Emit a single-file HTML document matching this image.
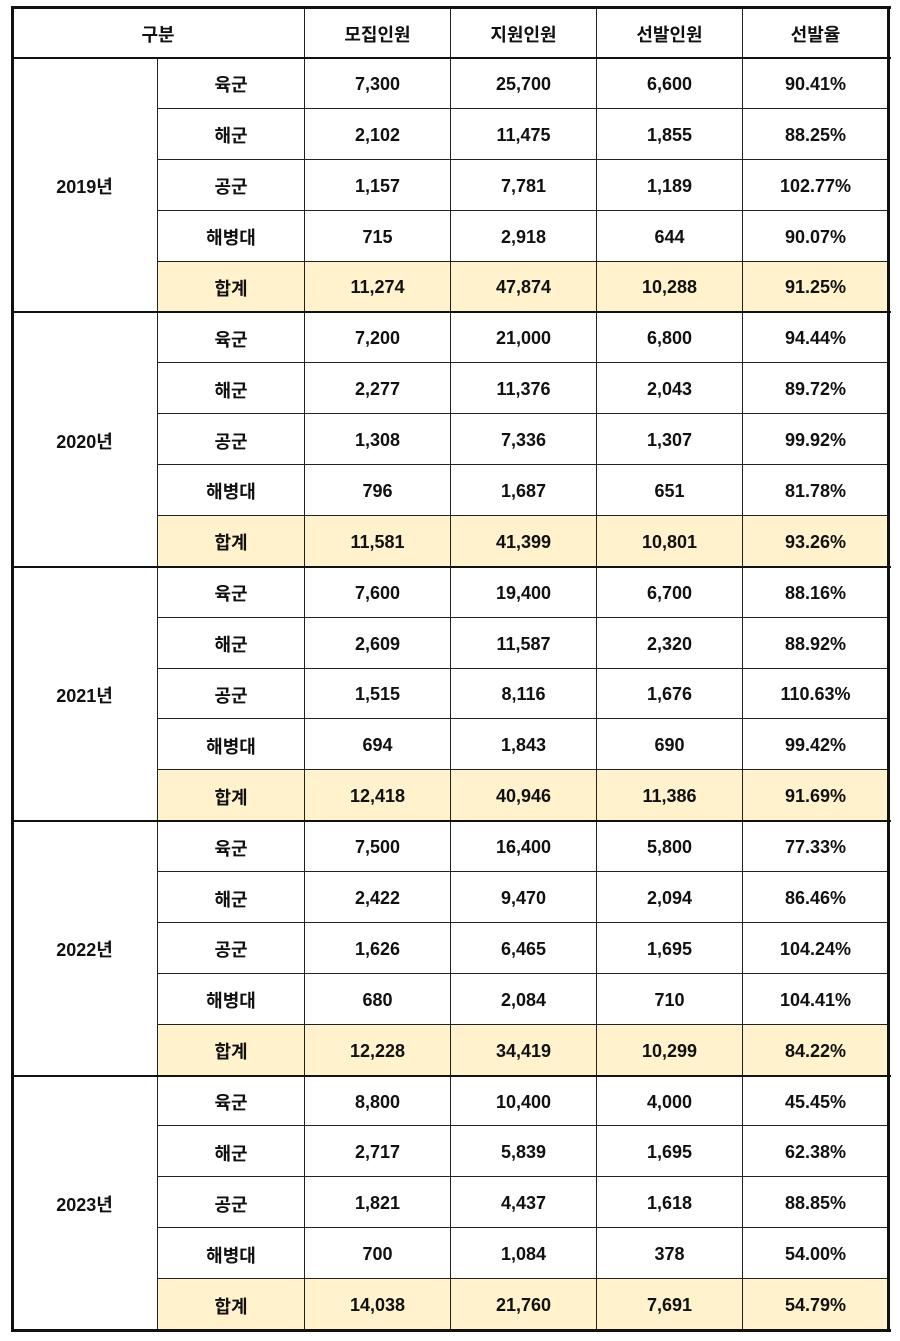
<!DOCTYPE html>
<html><head><meta charset="utf-8"><style>
html,body{margin:0;padding:0;background:#fff;width:900px;height:1341px;overflow:hidden}
#t{position:absolute;left:0;top:0;width:900px;height:1341px}
.c{position:absolute;box-sizing:border-box;display:flex;align-items:center;justify-content:center;padding-top:3px;font-family:"Liberation Sans","Noto Sans CJK KR",sans-serif;font-weight:bold;font-size:18px;color:#111;border-right:1.5px solid #222;border-bottom:1.5px solid #222}
.y{background:#fff2cc}
.hl{position:absolute;background:#111}
</style></head><body>
<div id="t"></div>
<script>
const years=["2019년","2020년","2021년","2022년","2023년"];
const branches=["육군","해군","공군","해병대","합계"];
const headers=["모집인원","지원인원","선발인원","선발율"];
const recruit=[["7,300","2,102","1,157","715","11,274"],["7,200","2,277","1,308","796","11,581"],["7,600","2,609","1,515","694","12,418"],["7,500","2,422","1,626","680","12,228"],["8,800","2,717","1,821","700","14,038"]];
const applied=[["25,700","11,475","7,781","2,918","47,874"],["21,000","11,376","7,336","1,687","41,399"],["19,400","11,587","8,116","1,843","40,946"],["16,400","9,470","6,465","2,084","34,419"],["10,400","5,839","4,437","1,084","21,760"]];
const selected=[["6,600","1,855","1,189","644","10,288"],["6,800","2,043","1,307","651","10,801"],["6,700","2,320","1,676","690","11,386"],["5,800","2,094","1,695","710","10,299"],["4,000","1,695","1,618","378","7,691"]];
const rates=[["90.41%","88.25%","102.77%","90.07%","91.25%"],["94.44%","89.72%","99.92%","81.78%","93.26%"],["88.16%","88.92%","110.63%","99.42%","91.69%"],["77.33%","86.46%","104.24%","104.41%","84.22%"],["45.45%","62.38%","88.85%","54.00%","54.79%"]];
const T=document.getElementById('t');
const X=[12,158,305,451,597,743,889];
const top0=7,hdrB=58,rh=(1330-58)/25;
function cell(x1,y1,x2,y2,txt,name,cls){
 const d=document.createElement('div');
 d.className='c'+(cls?' '+cls:'');
 d.style.left=x1+'px';d.style.top=y1+'px';d.style.width=(x2-x1)+'px';d.style.height=(y2-y1)+'px';
 d.textContent=txt;
 
 
 T.appendChild(d);
}
cell(X[0],top0,X[2],hdrB,"구분","header-category");
headers.forEach((h,i)=>cell(X[i+2],top0,X[i+3],hdrB,h,"header-col-"+(i+1)));
years.forEach((yr,g)=>{
 const gy=hdrB+g*5*rh;
 cell(X[0],gy,X[1],gy+5*rh,yr,"year-label");
 branches.forEach((b,r)=>{
  const y1=gy+r*rh,y2=y1+rh,cls=r===4?'y':'';
  cell(X[1],y1,X[2],y2,b,"branch-label",cls);
  cell(X[2],y1,X[3],y2,recruit[g][r],"recruit-cell",cls);
  cell(X[3],y1,X[4],y2,applied[g][r],"applied-cell",cls);
  cell(X[4],y1,X[5],y2,selected[g][r],"selected-cell",cls);
  cell(X[5],y1,X[6],y2,rates[g][r],"rate-cell",cls);
 });
});
function line(x,y,w,h,name){
 const d=document.createElement('div');d.className='hl';
 d.style.left=x+'px';d.style.top=y+'px';d.style.width=w+'px';d.style.height=h+'px';
 
 
 T.appendChild(d);
}
line(11,6,880,3,"border-top");
line(11,1329,880,3,"border-bottom");
line(11,6,3,1326,"border-left");
line(887,6,3,1326,"border-right");
line(11,57,880,2,"header-rule");
for(let g=1;g<5;g++){line(11,Math.round(hdrB+g*5*rh)-1,880,2,"group-rule");}
</script>
</body></html>
